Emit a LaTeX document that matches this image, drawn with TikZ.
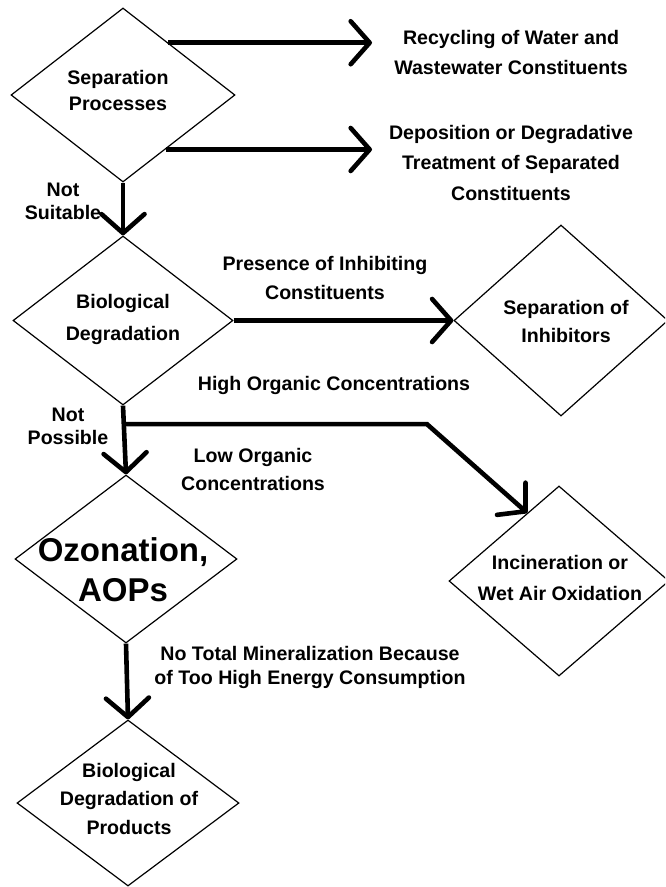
\documentclass[tikz,border=0pt]{standalone}
\usepackage{fontspec}
\setmainfont{Liberation Sans}
\usetikzlibrary{arrows.meta,shapes.geometric,calc}
\begin{document}
\begin{tikzpicture}[x=1pt,y=-1pt,
  dia/.style={draw, shape=diamond, inner sep=0pt, line width=1.2pt},
  txt/.style={font=\fontsize{19.6}{#1}\selectfont\bfseries, align=center, inner sep=0pt},
  txt/.default=30,
  bigtxt/.style={font=\fontsize{33}{40}\selectfont\bfseries, align=center, inner sep=0pt},
  arr/.style={line width=4.6pt, -{Straight Barb[length=19pt,width=43pt,round]}}
]
\useasboundingbox (0,0) rectangle (665,887);
\clip (0,0) rectangle (665,887);
% diamonds
\node[dia, minimum width=224pt, minimum height=174pt] (D1) at (123,95) {};
\node[dia, minimum width=220pt, minimum height=169pt] (D2) at (123,320.5) {};
\node[dia, minimum width=214pt, minimum height=191pt] (D4) at (561,320.5) {};
\node[dia, minimum width=222pt, minimum height=168pt] (D3) at (126,559) {};
\node[dia, minimum width=220pt, minimum height=190pt] (D6) at (559,581) {};
\node[dia, minimum width=222pt, minimum height=166pt] (D5) at (128,803) {};
% texts
\node[txt=26] (D1t) at (118,90) {Separation\\Processes};
\node[txt=30] (t1) at (511,52) {Recycling of Water and\\Wastewater Constituents};
\node[txt=30.5] (t2) at (511,162.5) {Deposition or Degradative\\Treatment of Separated\\Constituents};
\node[txt=23] (ns) at (63,201.5) {Not\\Suitable};
\node[txt=32] (D2t) at (123,319) {Biological\\Degradation};
\node[txt=29] (pi) at (325,277.5) {Presence of Inhibiting\\Constituents};
\node[txt=28] (D4t) at (566,321) {Separation of\\Inhibitors};
\node[txt] (hoc) at (334,385) {High Organic Concentrations};
\node[txt=23] (np) at (68,426.5) {Not\\Possible};
\node[txt=28] (loc) at (253,469) {Low Organic\\Concentrations};
\node[bigtxt] (D3t) at (123,570) {Ozonation,\\AOPs};
\node[txt=31] (D6t) at (560,577.5) {Incineration or\\Wet Air Oxidation};
\node[txt=24] (ntm) at (310,667) {No Total Mineralization Because\\of Too High Energy Consumption};
\node[txt=28.5] (D5t) at (129,798.5) {Biological\\Degradation of\\Products};
% connectors
\coordinate (e1) at (372,43);
\coordinate (e2) at (372,151);
\draw[arr] (D1.49) -- (D1.49 -| e1);
\draw[arr] (D1.-52) -- (D1.-52 -| e2);
\draw[arr] (D1.south) -- (D2.north);
\draw[arr] (D2.east) -- (D4.west);
\draw[arr] (D2.south) -- (D3.north);
\coordinate (br) at ($(D2.south)!0.27!(D3.north)$);
\coordinate (bend) at (427,424);
\draw[arr] (br) -- (br -| bend) -- (D6.115);
\draw[arr] (D3.south) -- (D5.north);
\end{tikzpicture}
\end{document}
